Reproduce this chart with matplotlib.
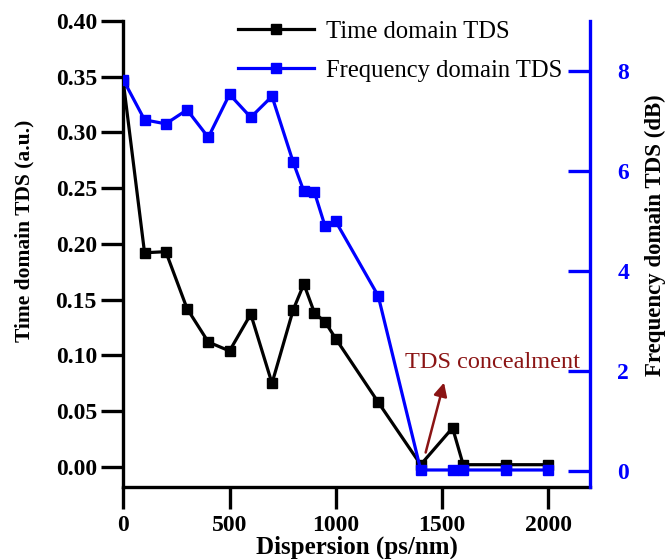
import numpy as np
import matplotlib.pyplot as plt

plt.rcParams['font.family'] = ['Liberation Serif', 'DejaVu Serif']

# dispersion values (ps/nm)
disp = [0, 100, 200, 300, 400, 500, 600, 700, 800, 850, 900, 950, 1000, 1200, 1400, 1550, 1600, 1800, 2000]
# time domain TDS (a.u.)
time_tds = [0.345, 0.192, 0.193, 0.142, 0.112, 0.104, 0.137, 0.075, 0.141, 0.164, 0.138, 0.130, 0.115,
            0.058, 0.002, 0.035, 0.002, 0.002, 0.002]
# frequency domain TDS (dB)
freq_tds = [7.82, 7.02, 6.94, 7.22, 6.67, 7.53, 7.07, 7.49, 6.17, 5.59, 5.57, 4.89, 4.99,
            3.50, 0.02, 0.02, 0.02, 0.02, 0.02]

left_ticks = [0.00, 0.05, 0.10, 0.15, 0.20, 0.25, 0.30, 0.35, 0.40]
right_ticks = [0, 2, 4, 6, 8]
x_ticks = [0, 500, 1000, 1500, 2000]

blue = '#0000ff'
red = '#8b1414'

fig = plt.figure(figsize=(6.68, 5.59), dpi=100)
ax = fig.add_axes([0.1846, 0.1288, 0.698, 0.834])
ax2 = ax.twinx()

l1, = ax.plot(disp, time_tds, color='black', lw=2.3, marker='s', ms=6.8, label='Time domain TDS')
l2, = ax2.plot(disp, freq_tds, color=blue, lw=2.3, marker='s', ms=6.8, label='Frequency domain TDS')

ax.set_xlim(0, 2195)
ax.set_ylim(-0.018, 0.40)
ax2.set_ylim(-0.32, 9.0)

ax.set_xticks(x_ticks)
ax.set_yticks(left_ticks)
ax.set_yticklabels([f'{t:.2f}' for t in left_ticks])
ax2.set_yticks(right_ticks)

for a in (ax, ax2):
    a.spines['top'].set_visible(False)
    for s in a.spines.values():
        s.set_linewidth(2.4)
ax2.spines['right'].set_color(blue)
ax2.spines['left'].set_visible(False)
ax2.spines['bottom'].set_visible(False)
ax.spines['right'].set_visible(False)

ax.tick_params(axis='both', direction='out', length=16, width=2.4, labelsize=17)
ax.tick_params(axis='y', pad=3)
ax.tick_params(axis='x', pad=4)
ax2.tick_params(axis='y', direction='in', length=16, width=2.4, labelsize=17, colors=blue, pad=20)
for lab in ax.get_xticklabels() + ax.get_yticklabels() + ax2.get_yticklabels():
    lab.set_fontweight('bold')

ax.set_xlabel('Dispersion (ps/nm)', fontsize=18, fontweight='bold', labelpad=0)
ax.set_ylabel('Time domain TDS (a.u.)', fontsize=15.5, fontweight='bold', labelpad=15)
ax2.set_ylabel('Frequency domain TDS (dB)', fontsize=16.5, fontweight='bold', labelpad=11)
ax.yaxis.label.set_y(0.55)
ax2.yaxis.label.set_y(0.54)

ax.annotate('', xy=(1513, 0.078), xytext=(1420, 0.0105),
            arrowprops=dict(arrowstyle='-|>', color=red, lw=1.8, mutation_scale=20))
ax.text(1325, 0.094, 'TDS concealment', color=red, fontsize=17.5, va='center', ha='left')

ax2.legend(handles=[l1, l2], loc='upper left', bbox_to_anchor=(0.245, 1.0), frameon=False,
           fontsize=17.7, handlelength=3.13, handletextpad=0.45, labelspacing=0.68,
           borderpad=0, borderaxespad=0)

fig.savefig('out.png', dpi=100)
